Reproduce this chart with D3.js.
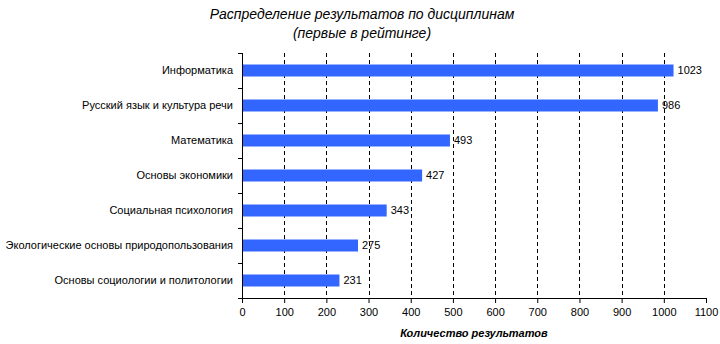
<!DOCTYPE html>
<html>
<head>
<meta charset="utf-8">
<script src="https://cdn.jsdelivr.net/npm/d3@7"></script>
<style>
  html, body { margin: 0; padding: 0; background: #fff; }
  svg { display: block; font-family: "Liberation Sans", Arial, sans-serif; }
</style>
</head>
<body>
<svg id="chart" width="720" height="344"></svg>
<script>
// Disciplines ranked by number of results
const categories = [
  "Информатика",
  "Русский язык и культура речи",
  "Математика",
  "Основы экономики",
  "Социальная психология",
  "Экологические основы природопользования",
  "Основы социологии и политологии"
];
const values = [1023, 986, 493, 427, 343, 275, 231];
const xTicks = [0, 100, 200, 300, 400, 500, 600, 700, 800, 900, 1000, 1100];

const titleLines = ["Распределение результатов по дисциплинам", "(первые в рейтинге)"];
const xTitle = "Количество результатов";

const svg = d3.select("#chart");
const margin = { left: 242, right: 14, top: 53, bottom: 46 };
const W = 720, H = 344;

const x = d3.scaleLinear().domain([0, 1100]).range([margin.left, W - margin.right]);
const yOuter = d3.scaleBand().domain(categories).range([margin.top, H - margin.bottom]);

// Dashed vertical grid lines
svg.append("g")
  .selectAll("line")
  .data(xTicks.filter(t => t > 0 && t < 1100))
  .join("line")
  .attr("x1", d => Math.round(x(d)) + 0.5)
  .attr("x2", d => Math.round(x(d)) + 0.5)
  .attr("y1", margin.top)
  .attr("y2", H - margin.bottom)
  .attr("stroke", "#000")
  .attr("stroke-width", 1)
  .attr("stroke-dasharray", "4,3");

// Bars
svg.append("g")
  .selectAll("rect")
  .data(values)
  .join("rect")
  .attr("x", x(0))
  .attr("y", (d, i) => yOuter(categories[i]) + yOuter.bandwidth() / 2 - 6)
  .attr("width", d => x(d) - x(0))
  .attr("height", 12)
  .attr("fill", "#3366FF");

// Value labels
svg.append("g")
  .selectAll("text")
  .data(values)
  .join("text")
  .attr("x", d => x(d) + 4)
  .attr("y", (d, i) => yOuter(categories[i]) + yOuter.bandwidth() / 2)
  .attr("dy", "0.36em")
  .attr("font-size", 11)
  .attr("fill", "#000")
  .text(d => d);

// X axis
const xAxis = svg.append("g")
  .attr("transform", `translate(0,${H - margin.bottom})`)
  .call(d3.axisBottom(x).tickValues(xTicks).tickFormat(d3.format("d")).tickSize(5).tickSizeOuter(0));
xAxis.select(".domain").attr("stroke", "#000");
xAxis.selectAll(".tick line").attr("stroke", "#000");
xAxis.selectAll(".tick text").attr("font-size", 11).attr("fill", "#000")
  .attr("font-family", "Liberation Sans, Arial, sans-serif").attr("dy", "0.9em");

// Y axis: line with ticks at category boundaries
svg.append("line")
  .attr("x1", x(0) + 0.5).attr("x2", x(0) + 0.5)
  .attr("y1", margin.top).attr("y2", H - margin.bottom)
  .attr("stroke", "#000");
const bounds = categories.map(c => yOuter(c)).concat([H - margin.bottom]);
svg.append("g")
  .selectAll("line")
  .data(bounds)
  .join("line")
  .attr("x1", x(0) - 4).attr("x2", x(0))
  .attr("y1", d => Math.round(d) + 0.5).attr("y2", d => Math.round(d) + 0.5)
  .attr("stroke", "#000");

// Category labels
svg.append("g")
  .selectAll("text")
  .data(categories)
  .join("text")
  .attr("x", x(0) - 9)
  .attr("y", d => yOuter(d) + yOuter.bandwidth() / 2)
  .attr("dy", "0.36em")
  .attr("text-anchor", "end")
  .attr("font-size", 11)
  .attr("fill", "#000")
  .text(d => d);

// Axis title
svg.append("text")
  .attr("x", (x(0) + x(1100)) / 2)
  .attr("y", 337)
  .attr("text-anchor", "middle")
  .attr("font-size", 11)
  .attr("font-weight", "bold")
  .attr("font-style", "italic")
  .text(xTitle);

// Chart title
svg.append("g")
  .selectAll("text")
  .data(titleLines)
  .join("text")
  .attr("x", 362)
  .attr("y", (d, i) => 19 + i * 19)
  .attr("text-anchor", "middle")
  .attr("font-size", 14)
  .attr("font-style", "italic")
  .text(d => d);
</script>
</body>
</html>
